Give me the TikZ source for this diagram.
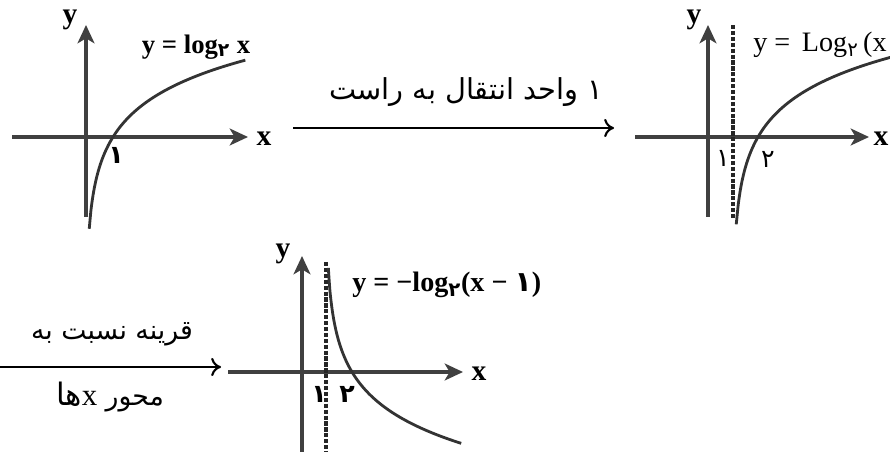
\documentclass[tikz,border=0pt]{standalone}
\usepackage{fontspec}
\setmainfont{Liberation Serif}
\newfontfamily\fa[Script=Arabic]{DejaVu Sans}
\TeXXeTstate=1
\usetikzlibrary{arrows.meta}

\begin{document}
\begin{tikzpicture}[x=0.025cm, y=-0.025cm,
  axis/.style={draw=black!75, line width=2.3pt, -{Stealth[length=13pt,width=12pt,inset=3.5pt]}},
  curve/.style={draw=black!80, line width=2pt},
  asym/.style={draw=black!85, line width=2.2pt, dash pattern=on 3pt off 1.2pt},
  movearrow/.style={draw=black, line width=1.5pt, -{To[length=7pt,width=13pt]}},
  lbl/.style={font=\fontsize{19}{22}\selectfont\bfseries, inner sep=0pt},
  axlbl/.style={font=\fontsize{21}{22}\selectfont\bfseries, inner sep=0pt},
  fanum/.style={font=\fontsize{18}{20}\selectfont\fa, inner sep=0pt},
  fatext/.style={font=\fontsize{19}{22}\selectfont\fa, inner sep=0pt}]
  \useasboundingbox (0,0) rectangle (890,452);
  \clip (0,0) rectangle (890,452);

  % first graph: y = log_2 x
  \draw[axis] (86,217) -- (86,25);
  \draw[axis] (12,137) -- (248,137);
  \draw[curve] plot[domain=0.12:5.9, samples=90, smooth] ({86+27*\x},{137-30*ln(\x)/ln(2)});
  \node[axlbl] (y1) at (70,20) {y};
  \node[axlbl] (x1) at (264,139) {x};
  \node[fanum, font=\fontsize{18}{20}\selectfont\fa\bfseries] (one1) at (116,155) {۱};
  \node[lbl] (eq1) at (196,47) {y = log\textsubscript{\fa ۲} x};

  % shift by one unit
  \coordinate (s1) at (293,128);
  \coordinate (e1) at (614,128);
  \draw[movearrow] (s1) -- (e1);
  \node[fatext, font=\fontsize{20.5}{24}\selectfont\fa] (t1) at (466,92) {\beginR ۱ واحد انتقال به راست\endR};

  % second graph: y = log_2(x-1)
  \draw[axis] (708,217) -- (708,25);
  \draw[axis] (635,137) -- (869,137);
  \draw[asym] (733,25) -- (733,218);
  \draw[curve] plot[domain=0.13:7.5, samples=90, smooth] ({733+25*\x},{137-30*ln(\x)/ln(2)});
  \node[axlbl] (y2) at (694,20) {y};
  \node[axlbl] (x2) at (881,139) {x};
  \node[fanum] (one2) at (723,158) {۱};
  \node[fanum] (two2) at (768,159) {۲};
  \node[lbl, font=\fontsize{20}{22}\selectfont, anchor=west] (eq2) at (753,45) {y = \,Log\textsubscript{\fa ۲}\,(x};

  % reflection about the x axis
  \coordinate (s2) at (0,367);
  \coordinate (e2) at (221,367);
  \draw[movearrow] (s2) -- (e2);
  \node[fatext] (t2) at (112,334) {\beginR قرینه نسبت به\endR};
  \node[fatext] (t3) at (110,397) {\beginR محور \fontspec{Liberation Serif}\fontsize{22}{24}\selectfont x\fa ها\endR};

  % third graph: y = -log_2(x-1)
  \draw[axis] (302,452) -- (302,256);
  \draw[axis] (228,372) -- (463,372);
  \draw[asym] (326,262) -- (326,452);
  \draw[curve] plot[domain=0.09:5.2, samples=90, smooth] ({326+26*\x},{372+30*ln(\x)/ln(2)});
  \node[axlbl] (y3) at (283,254) {y};
  \node[axlbl] (x3) at (479,374) {x};
  \node[fanum, font=\fontsize{18}{20}\selectfont\fa\bfseries] (one3) at (319,394) {۱};
  \node[fanum, font=\fontsize{18}{20}\selectfont\fa\bfseries] (two3) at (347,394) {۲};
  \node[lbl, font=\fontsize{20}{22}\selectfont\bfseries, anchor=west] (eq3) at (352,285) {y = −log\textsubscript{\fa ۲}(x − {\fa ۱})};
\end{tikzpicture}
\end{document}
